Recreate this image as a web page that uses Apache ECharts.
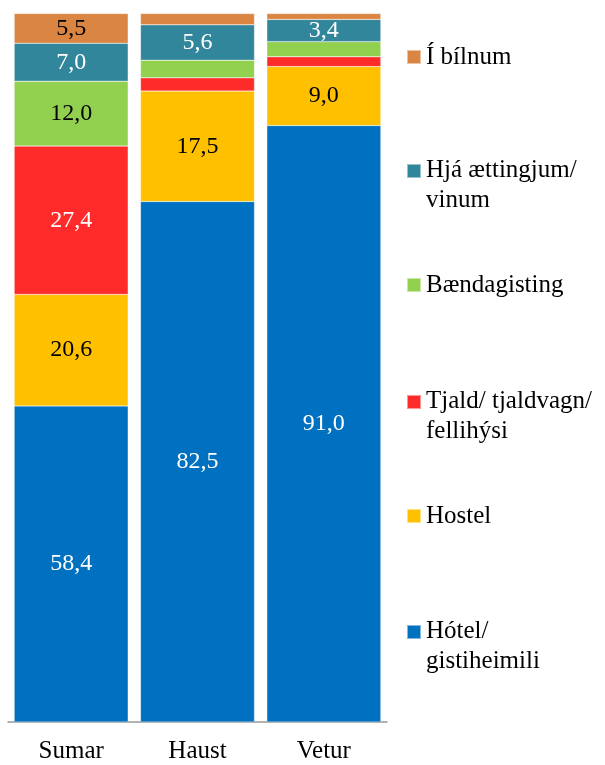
<!DOCTYPE html>
<html lang="is">
<head>
    <meta charset="UTF-8">
    <title>Gisting eftir árstíðum</title>
    <script src="https://cdn.jsdelivr.net/npm/echarts@6/dist/echarts.min.js"></script>
</head>
<body style="margin: 0">
<div id="chart" style="width: 605px;height: 765px;"></div>
<script>
    // gögn lesin af myndinni (hlutfall svarenda, fleiri en eitt svar leyfilegt)
    var categories = ['Sumar', 'Haust', 'Vetur'];
    var hotel = [58.4, 82.5, 91.0];
    var hostel = [20.6, 17.5, 9.0];
    var tjald = [27.4, 2.1, 1.5];
    var baenda = [12.0, 2.8, 2.3];
    var aettingjar = [7.0, 5.6, 3.4];
    var bilnum = [5.5, 1.8, 0.9];

    var seriesNames = ['Hótel/\ngistiheimili', 'Hostel', 'Tjald/ tjaldvagn/\nfellihýsi', 'Bændagisting', 'Hjá ættingjum/\nvinum', 'Í bílnum'];
    var seriesData = [hotel, hostel, tjald, baenda, aettingjar, bilnum];
    var colors = ['#0070C0', '#FFC000', '#FF2B2B', '#92D050', '#31869B', '#DA8541'];
    var labelColors = ['#fff', '#000', '#fff', '#000', '#fff', '#000'];
    // miðja á merki í skýringu (px)
    var legendY = [631, 516, 401, 285, 170, 57];

    var font = '"Liberation Serif", "DejaVu Serif", serif';

    // 100% stöflun: hver súla er jöfnuð í 100, merkin sýna upprunalegu gildin
    var totals = categories.map(function (c, i) {
        var s = 0;
        seriesData.forEach(function (arr) { s += arr[i]; });
        return s;
    });

    var series = seriesData.map(function (arr, k) {
        return {
            name: seriesNames[k],
            type: 'bar',
            stack: 'all',
            barWidth: 114,
            itemStyle: {color: colors[k], borderColor: 'rgba(255,255,255,0.5)', borderWidth: 0.5},
            label: {
                show: true,
                position: 'inside',
                color: labelColors[k],
                fontFamily: font,
                fontSize: 24,
                formatter: function (p) {
                    var raw = arr[p.dataIndex];
                    return raw < 3 ? '' : raw.toFixed(1).replace('.', ',');
                }
            },
            data: arr.map(function (v, i) { return v / totals[i] * 100; })
        };
    });

    // tveggja lína heiti: ferningurinn á að standa við fyrri línuna,
    // svo táknið er hærra og ferningurinn efst í því
    var legends = seriesNames.map(function (name, k) {
        var twoLines = name.indexOf('\n') >= 0;
        return {
            orient: 'vertical',
            left: 406,
            top: legendY[k] - 15,
            padding: 0,
            itemWidth: 14,
            itemHeight: twoLines ? 42 : 14,
            icon: twoLines ? 'path://M0,0H10V10H0Z M0,30L0,30' : 'rect',
            symbolKeepAspect: false,
            selectedMode: false,
            textStyle: {fontFamily: font, fontSize: 25, color: '#000', lineHeight: 30},
            data: [name]
        };
    });

    var myChart = echarts.init(document.getElementById('chart'));
    var option = {
        animation: false,
        legend: legends,
        grid: {left: 8, right: 218, top: 13.5, bottom: 43},
        xAxis: {
            type: 'category',
            data: categories,
            axisLine: {lineStyle: {color: '#999', width: 1.5}},
            axisTick: {show: false},
            axisLabel: {fontFamily: font, fontSize: 25, color: '#000', margin: 17}
        },
        yAxis: {
            type: 'value',
            min: 0,
            max: 100,
            show: false,
            splitLine: {show: false}
        },
        series: series
    };
    myChart.setOption(option);
</script>
</body>
</html>
